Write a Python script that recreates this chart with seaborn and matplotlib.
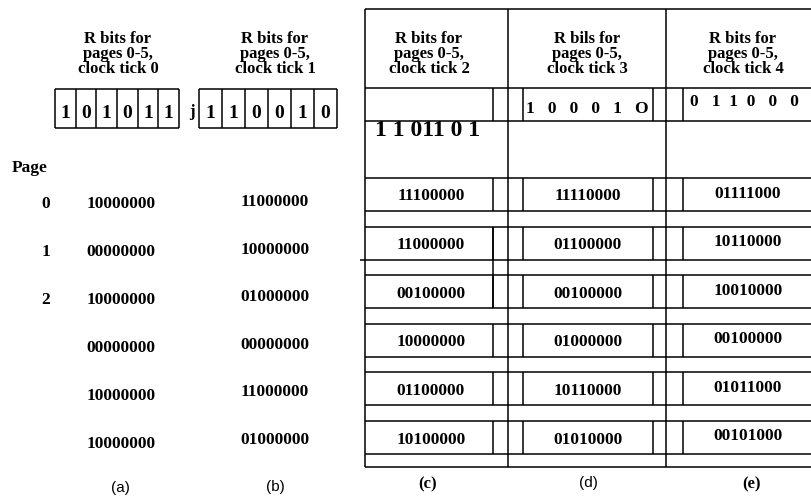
import matplotlib
matplotlib.use("Agg")
import matplotlib.pyplot as plt
import seaborn as sns

# R bits and aging counters per clock tick
tick_panels = ["(a)", "(b)", "(c)", "(d)", "(e)"]
tick_headers = [
    ["R bits for", "pages 0-5,", "clock tick 0"],
    ["R bits for", "pages 0-5,", "clock tick 1"],
    ["R bits for", "pages 0-5,", "clock tick 2"],
    ["R bils for", "pages 0-5,", "clock tick 3"],
    ["R bits for", "pages 0-5,", "clock tick 4"],
]
rbits_a = "101011"
rbits_b = "110010"
rbits_c = "1 1 011 0 1"
rbits_d = "1   0   0   0   1   O"
rbits_e = "0   1  1  0   0   0"
page_labels = ["0", "1", "2", "", "", ""]
counter_a = ["10000000", "00000000", "10000000", "00000000", "10000000", "10000000"]
counter_b = ["11000000", "10000000", "01000000", "00000000", "11000000", "01000000"]
counter_c = ["11100000", "11000000", "00100000", "10000000", "01100000", "10100000"]
counter_d = ["11110000", "01100000", "00100000", "01000000", "10110000", "01010000"]
counter_e = ["01111000", "10110000", "10010000", "00100000", "01011000", "00101000"]

sns.set_style("white")
plt.rcParams['font.family'] = ['Liberation Serif', 'DejaVu Serif']

fig = plt.figure(figsize=(8.12, 4.97), dpi=100)
ax = fig.add_axes([0, 0, 1, 1])
ax.set_xlim(0, 812)
ax.set_ylim(497, 0)
ax.axis('off')

lw = 1.1
serif = dict(fontweight='bold', color='black')
sans = dict(family='Liberation Sans', color='black', fontsize=11)

# header text, baselines
head_x = [118, 275, 429, 587, 743]
for hx, lines in zip(head_x, tick_headers):
    for k, line in enumerate(lines):
        ax.text(hx, 43 + 15 * k, line, ha='center', va='baseline', fontsize=12, **serif)

# left side boxes with R bits
for bits, x0, width in [(rbits_a, 55, 124), (rbits_b, 199, 138)]:
    cw = width / len(bits)
    ax.hlines([89, 128], x0, x0 + width, color='black', lw=lw)
    ax.vlines([x0 + cw * i for i in range(len(bits) + 1)], 89, 128, color='black', lw=lw)
    for i, b in enumerate(bits):
        ax.text(x0 + cw * (i + 0.5), 111, b, ha='center', va='center_baseline', fontsize=14, **serif)
ax.text(192, 116, "j", ha='center', va='baseline', fontsize=12, **serif)

# page column and counters (a), (b)
ax.text(12, 172, "Page", ha='left', va='baseline', fontsize=12.5, **serif)
for i, p in enumerate(page_labels):
    ax.text(46, 202 + 48 * i, p, ha='center', va='center_baseline', fontsize=12.5, **serif)
for i, v in enumerate(counter_a):
    ax.text(121, 202 + 48 * i, v, ha='center', va='center_baseline', fontsize=12.5, **serif)
for i, v in enumerate(counter_b):
    ax.text(275, 200 + 47.6 * i, v, ha='center', va='center_baseline', fontsize=12.5, **serif)
ax.text(120, 488, tick_panels[0], ha='center', va='center', **sans)
ax.text(275, 487, tick_panels[1], ha='center', va='center', **sans)

# right table (c)-(e)
left, right, top, bottom = 365, 812, 9, 467
ax.hlines([top, 88, 121, bottom], left, right, color='black', lw=lw)
ax.vlines([left, 508, 666], top, bottom, color='black', lw=lw)
inner = [493, 523, 653, 683]
ax.vlines(inner, 88, 121, color='black', lw=lw)

box_tops = [178 + 48.6 * i for i in range(6)]
box_h = 33
ax.hlines(box_tops, left, right, color='black', lw=lw)
ax.hlines([t + box_h for t in box_tops], left, right, color='black', lw=lw)
for i, t in enumerate(box_tops):
    ax.vlines(inner, t, t + box_h, color='black', lw=lw)
ax.vlines(493, box_tops[1], box_tops[2] + box_h, color='black', lw=lw)
ax.hlines(box_tops[1] + box_h, 360, left, color='black', lw=lw)

ax.text(428, 136, rbits_c, ha='center', va='baseline', fontsize=17, **serif)
ax.text(587, 107, rbits_d, ha='center', va='center_baseline', fontsize=12.5, **serif)
ax.text(744, 100, rbits_e, ha='center', va='center_baseline', fontsize=12.5, **serif)

for cx, dy, vals in [(431, 0, counter_c), (588, 0, counter_d), (748, -3, counter_e)]:
    for i, v in enumerate(vals):
        ax.text(cx, box_tops[i] + box_h / 2 + dy, v, ha='center', va='center_baseline',
                fontsize=12.5, **serif)

ax.text(428, 484, tick_panels[2], ha='center', va='center', fontsize=12, **serif)
ax.text(588, 483, tick_panels[3], ha='center', va='center', **sans)
ax.text(752, 484, tick_panels[4], ha='center', va='center', fontsize=12, **serif)

fig.savefig("out.png", dpi=100, facecolor='white')
